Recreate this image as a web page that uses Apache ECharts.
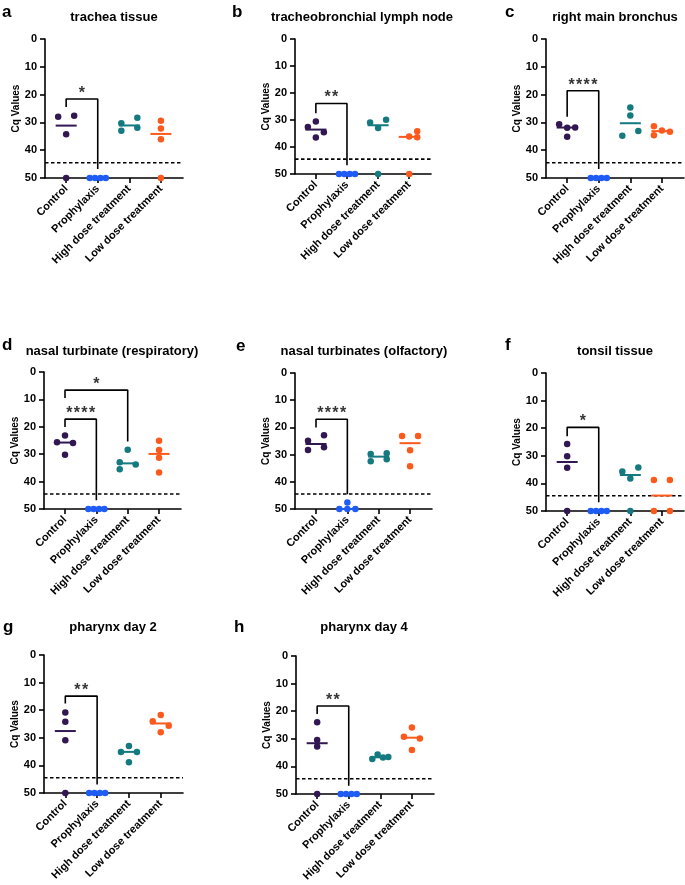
<!DOCTYPE html>
<html><head><meta charset="utf-8">
<script src="https://cdn.jsdelivr.net/npm/echarts@6/dist/echarts.min.js"></script>
<style>html,body{margin:0;padding:0;background:#fff}#c{width:685px;height:885px}</style>
</head><body><div id="c"></div>
<script>
// ---------- data ----------
const categories = ['Control', 'Prophylaxis', 'High dose treatment', 'Low dose treatment'];
const yTicks = [0, 10, 20, 30, 40, 50];
const detectionLimit = 44.5;
const panelLetters = ['a', 'b', 'c', 'd', 'e', 'f', 'g', 'h'];
const panelTitles = ['trachea tissue', 'tracheobronchial lymph node', 'right main bronchus',
  'nasal turbinate (respiratory)', 'nasal turbinates (olfactory)', 'tonsil tissue',
  'pharynx day 2', 'pharynx day 4'];

// Cq values per group: [Control, Prophylaxis, High dose, Low dose]
const tracheaTissue   = [[28, 27.6, 34.3, 50], [50, 50, 50, 50], [30.3, 28.3, 33.0, 31.9], [29.4, 32.2, 36.1, 50]];
const lymphNode       = [[32.6, 30.6, 34.5, 36.5], [50, 50, 50, 50], [30.9, 29.9, 33.0, 50], [34.2, 36.1, 36.4, 50]];
const mainBronchus    = [[30.7, 31.8, 31.9, 35.2], [50, 50, 50, 50], [24.6, 27.5, 34.8, 33.1], [31.4, 34.6, 32.9, 33.4]];
const nasalRespiratory= [[23.2, 25.6, 25.9, 30.2], [50, 50, 50, 50], [28.4, 32.9, 33.8, 35.5], [25.1, 28.5, 31.3, 36.7]];
const nasalOlfactory  = [[24.9, 22.9, 28.3, 27.3], [50, 47.6, 50, 50], [29.8, 29.5, 32.4, 31.7], [23.2, 23.2, 28.4, 34.3]];
const tonsilTissue    = [[25.7, 30.2, 34.3, 50], [50, 50, 50, 50], [35.7, 34.2, 38.2, 50], [38.8, 38.8, 50, 50]];
const pharynxDay2     = [[20.8, 24.2, 30.9, 50], [50, 50, 50, 50], [33.0, 35.1, 35.1, 38.9], [21.7, 24.0, 25.6, 28.0]];
const pharynxDay4     = [[24.0, 30.4, 32.8, 50], [50, 50, 50, 50], [37.3, 35.7, 36.8, 36.6], [25.9, 29.3, 29.9, 34.1]];

// horizontal spread of the dots within a group (pixels)
const tracheaTissueSpread    = [[-8, 8, 0, 0], [-8, -2.7, 2.7, 8], [-8, 8, -8, 8], [0, 0, 0, 0]];
const lymphNodeSpread        = [[-8, 0, 8, 0], [-8, -2.7, 2.7, 8], [-8, 8, 0, 0], [8, 0, 8, 0]];
const mainBronchusSpread     = [[-8, 8, 0, 0], [-8, -2.7, 2.7, 8], [0, 0, -8, 8], [-8, -8, 0, 8]];
const nasalRespiratorySpread = [[0, -8, 8, 0], [-8, -2.7, 2.7, 8], [0, -8, 8, -8], [0, 0, 0, 0]];
const nasalOlfactorySpread   = [[-8, 8, -8, 8], [-8, 0, 0, 8], [-8, 8, -8, 8], [-8, 8, 0, 0]];
const tonsilTissueSpread     = [[0, 0, 0, 0], [-8, -2.7, 2.7, 8], [-8, 8, 0, 0], [-8, 8, -8, 8]];
const pharynxDay2Spread      = [[0, 0, 0, 0], [-8, -2.7, 2.7, 8], [0, -8, 8, 0], [0, -8, 8, 0]];
const pharynxDay4Spread      = [[0, 0, 0, 0], [-8, -2.7, 2.7, 8], [-8, -2.7, 2.7, 8], [0, -8, 8, 0]];

// significance brackets: from group, to group, stars, bracket top, left leg end, right leg end (Cq)
const tracheaTissueSig    = [[0, 1, '*', 21.6, 24.5, 46.8]];
const lymphNodeSig        = [[0, 1, '**', 23.9, 27.5, 46.8]];
const mainBronchusSig     = [[0, 1, '****', 18.6, 28.0, 46.8]];
const nasalRespiratorySig = [[0, 2, '*', 6.6, 9.5, 25.4], [0, 1, '****', 17.2, 20.1, 46.8]];
const nasalOlfactorySig   = [[0, 1, '****', 17.0, 20.0, 44.6]];
const tonsilTissueSig     = [[0, 1, '*', 19.7, 22.9, 46.8]];
const pharynxDay2Sig      = [[0, 1, '**', 14.9, 17.6, 46.9]];
const pharynxDay4Sig      = [[0, 1, '**', 18.1, 21.0, 47.0]];

const panelValues = [tracheaTissue, lymphNode, mainBronchus, nasalRespiratory, nasalOlfactory, tonsilTissue, pharynxDay2, pharynxDay4];
const panelSpread = [tracheaTissueSpread, lymphNodeSpread, mainBronchusSpread, nasalRespiratorySpread, nasalOlfactorySpread, tonsilTissueSpread, pharynxDay2Spread, pharynxDay4Spread];
const panelSig = [tracheaTissueSig, lymphNodeSig, mainBronchusSig, nasalRespiratorySig, nasalOlfactorySig, tonsilTissueSig, pharynxDay2Sig, pharynxDay4Sig];

// ---------- layout & style ----------
const groupColors = ['#321852', '#1e5cf5', '#147a80', '#fb5a1d'];
const FONT = '"Liberation Sans", Arial, Helvetica, sans-serif';
const XMIN = -0.67, XMAX = 3.7;
const layout = [
  {l: 45, t: 39, w: 138, h: 139, letter: [2, 12], title: [114, 17]},
  {l: 295, t: 39, w: 136, h: 135, letter: [232, 12], title: [362, 17]},
  {l: 546, t: 39, w: 138, h: 139, letter: [505, 12], title: [615, 17]},
  {l: 44, t: 372, w: 137, h: 137, letter: [2, 345], title: [112, 351]},
  {l: 295, t: 373, w: 137, h: 136, letter: [236, 346], title: [364, 351]},
  {l: 546, t: 373, w: 138, h: 138, letter: [505, 345], title: [615, 351]},
  {l: 44, t: 655, w: 139, h: 138, letter: [3, 627], title: [113, 627]},
  {l: 296, t: 656, w: 138, h: 138, letter: [234, 627], title: [364, 627]}
];

function median(a) {
  const s = a.slice().sort((x, y) => x - y);
  const n = s.length;
  return n % 2 ? s[(n - 1) / 2] : (s[n / 2 - 1] + s[n / 2]) / 2;
}

const grid = [], xAxis = [], yAxis = [], series = [], graphic = [];
layout.forEach((L, i) => {
  grid.push({left: L.l, top: L.t, width: L.w, height: L.h});
  xAxis.push({
    type: 'value', gridIndex: i, min: XMIN, max: XMAX,
    splitLine: {show: false},
    axisLine: {show: true, onZero: false, lineStyle: {color: '#000', width: 1.6}},
    axisTick: {show: true, customValues: [0, 1, 2, 3], length: 5, lineStyle: {color: '#000', width: 1.6}},
    axisLabel: {
      show: true, customValues: [0, 1, 2, 3], rotate: 45, margin: 9,
      formatter: v => categories[Math.round(v)],
      color: '#000', fontWeight: 'bold', fontSize: 11, fontFamily: FONT
    }
  });
  yAxis.push({
    type: 'value', gridIndex: i, min: 0, max: 50, interval: 10, inverse: true,
    splitLine: {show: false},
    axisLine: {show: true, onZero: false, lineStyle: {color: '#000', width: 1.6}},
    axisTick: {show: true, length: 5, lineStyle: {color: '#000', width: 1.6}},
    axisLabel: {color: '#000', fontWeight: 'bold', fontSize: 11, fontFamily: FONT, margin: 8,
      formatter: v => yTicks.includes(v) ? String(v) : ''},
    name: 'Cq Values', nameLocation: 'middle', nameGap: 24,
    nameTextStyle: {color: '#000', fontWeight: 'bold', fontSize: 10, fontFamily: FONT}
  });

  const spacing = L.w / (XMAX - XMIN);
  const vals = panelValues[i], spread = panelSpread[i];

  // detection limit
  series.push({
    type: 'line', xAxisIndex: i, yAxisIndex: i, silent: true, symbol: 'none', z: 2,
    data: [[XMIN, detectionLimit], [XMAX, detectionLimit]],
    lineStyle: {color: '#000', width: 1.6, type: [3.5, 2.5]}
  });

  vals.forEach((gv, g) => {
    const med = median(gv);
    series.push({
      type: 'line', xAxisIndex: i, yAxisIndex: i, silent: true, symbol: 'none', z: 3,
      data: [[g - 10.5 / spacing, med], [g + 10.5 / spacing, med]],
      lineStyle: {color: groupColors[g], width: 2}
    });
    series.push({
      type: 'scatter', xAxisIndex: i, yAxisIndex: i, silent: true, clip: false, z: 4,
      symbolSize: 6.5, itemStyle: {color: groupColors[g], opacity: 1},
      data: gv.map((v, k) => [g + spread[g][k] / spacing, v])
    });
  });

  panelSig[i].forEach(s => {
    const [from, to, stars, top, le, re] = s;
    series.push({
      type: 'line', xAxisIndex: i, yAxisIndex: i, silent: true, symbol: 'none', z: 5,
      data: [[from, le], [from, top], [to, top], [to, re]],
      lineStyle: {color: '#000', width: 1.6}
    });
    series.push({
      type: 'scatter', xAxisIndex: i, yAxisIndex: i, silent: true, z: 6,
      symbol: 'circle', symbolSize: 1, itemStyle: {color: 'rgba(255,255,255,0)'},
      data: [[(from + to) / 2, top]],
      label: {show: true, position: 'top', distance: -3, formatter: stars.split('').join('\u200A'),
        color: '#000', fontWeight: 'bold', fontSize: 16, fontFamily: FONT}
    });
  });

  graphic.push({type: 'text', x: L.letter[0], y: L.letter[1], style: {
    text: panelLetters[i], font: 'bold 17px ' + FONT, fill: '#000', textAlign: 'left', textVerticalAlign: 'middle'}});
  graphic.push({type: 'text', x: L.title[0], y: L.title[1], style: {
    text: panelTitles[i], font: 'bold 13px ' + FONT, fill: '#000', textAlign: 'center', textVerticalAlign: 'middle'}});
});

const chart = echarts.init(document.getElementById('c'), null, {renderer: 'canvas'});
chart.setOption({animation: false, backgroundColor: '#fff', grid, xAxis, yAxis, series, graphic});
</script>
</body></html>
